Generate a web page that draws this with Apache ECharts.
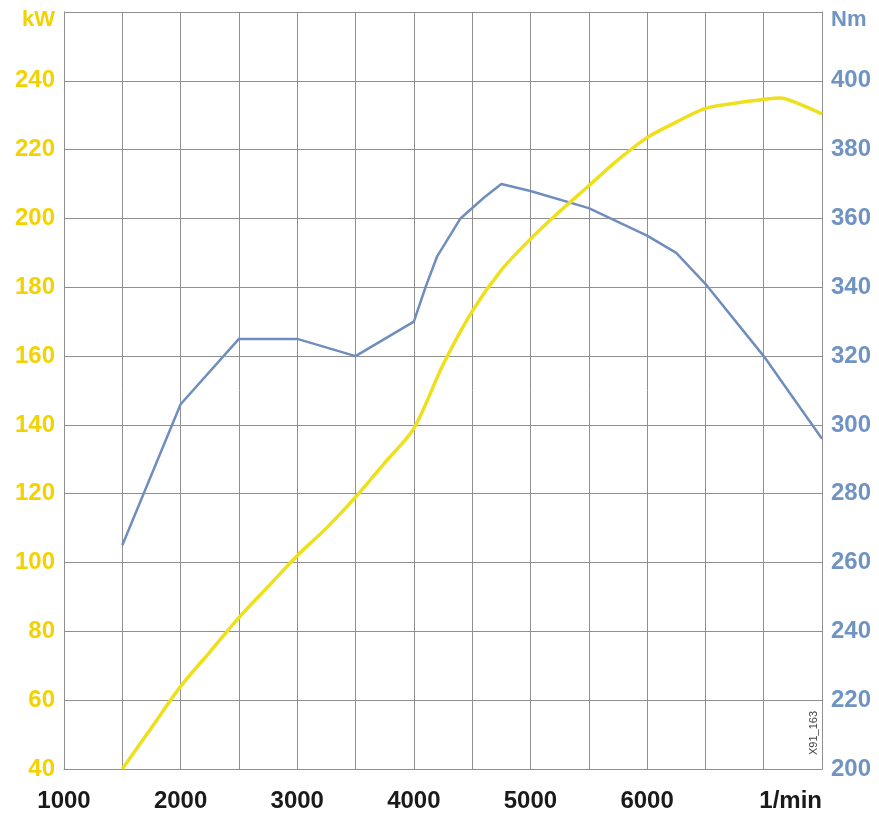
<!DOCTYPE html>
<html>
<head>
<meta charset="utf-8">
<script src="https://cdn.jsdelivr.net/npm/echarts@6/dist/echarts.min.js"></script>
<style>
html,body{margin:0;padding:0;background:#fff;}
#chart{width:879px;height:822px;}
</style>
</head>
<body>
<div id="chart"></div>
<script>
// Power curve (kW) sampled over engine speed (1/min)
var powerRpm = [1500,1750,2000,2250,2500,2750,3000,3250,3500,3750,4000,4250,4500,4750,5000,5250,5500,5750,6000,6250,6500,6750,7000,7150,7250,7500];
var powerKw  = [40,52,64,74,84,93,102,110,119,129,139,157.5,173,185,194,202,209.5,217,223.5,228,232,233.5,234.6,235,234,230.4];
// Torque curve (Nm)
var torqueRpm = [1500,2000,2500,3000,3500,4000,4100,4200,4400,4600,4750,5000,5500,6000,6250,6500,7000,7500];
var torqueNm  = [265,306,325,325,320,330,340,349,360,366,370,368,363,355,350,341,320,296];
// Axis ticks
var xTicks = [1000,2000,3000,4000,5000,6000];
var xUnit = '1/min';
var kwName = 'kW';
var nmName = 'Nm';
var codeText = 'X91_163';

var yellow = '#eee01c';
var yellowText = '#f2d200';
var blue = '#6f8ebd';
var blueText = '#6f93c3';
var gridColor = '#8f8f8f';

function pairs(xs, ys){ return xs.map(function(x,i){ return [x, ys[i]]; }); }

var chart = echarts.init(document.getElementById('chart'), null, {renderer:'canvas'});
chart.setOption({
  animation: false,
  backgroundColor: '#fff',
  grid: {left: 64, right: 57, top: 12, bottom: 53, containLabel: false},
  xAxis: {
    type: 'value', min: 1000, max: 7500, interval: 500,
    axisLine: {show: true, lineStyle: {color: gridColor, width: 1}},
    axisTick: {show: false},
    splitLine: {show: true, lineStyle: {color: gridColor, width: 1}},
    axisLabel: {
      margin: 20, color: '#1a1a1a', fontSize: 24, fontWeight: 'bold', fontFamily: 'Liberation Sans',
      showMaxLabel: true, alignMaxLabel: 'right',
      formatter: function(v){
        if (v === 7500) return xUnit;
        return xTicks.indexOf(v) >= 0 ? String(v) : '';
      }
    }
  },
  yAxis: [{
    type: 'value', min: 40, max: 260, interval: 20, position: 'left',
    name: kwName, nameLocation: 'end', nameGap: -8,
    nameTextStyle: {color: yellowText, fontSize: 22, fontWeight: 'bold', fontFamily: 'Liberation Sans', align: 'right', verticalAlign: 'middle', padding: [0, 9, 0, 0]},
    axisLine: {show: true, lineStyle: {color: gridColor, width: 1}},
    axisTick: {show: false},
    splitLine: {show: true, lineStyle: {color: gridColor, width: 1}},
    axisLabel: {margin: 9, color: yellowText, fontSize: 24, fontWeight: 'bold', fontFamily: 'Liberation Sans',
      formatter: function(v){ return v === 260 ? '' : String(v); }}
  },{
    type: 'value', min: 200, max: 420, interval: 20, position: 'right',
    name: nmName, nameLocation: 'end', nameGap: -8,
    nameTextStyle: {color: blueText, fontSize: 22, fontWeight: 'bold', fontFamily: 'Liberation Sans', align: 'left', verticalAlign: 'middle', padding: [0, 0, 0, 9]},
    axisLine: {show: true, lineStyle: {color: gridColor, width: 1}},
    axisTick: {show: false},
    splitLine: {show: false},
    axisLabel: {margin: 9, color: blueText, fontSize: 24, fontWeight: 'bold', fontFamily: 'Liberation Sans',
      formatter: function(v){ return v === 420 ? '' : String(v); }}
  }],
  series: [{
    type: 'line', name: 'Nm', yAxisIndex: 1, data: pairs(torqueRpm, torqueNm),
    showSymbol: false, smooth: false,
    lineStyle: {color: blue, width: 2.5}
  },{
    type: 'line', name: 'kW', yAxisIndex: 0, data: pairs(powerRpm, powerKw),
    showSymbol: false, smooth: 0.3,
    lineStyle: {color: yellow, width: 3.5}
  }],
  graphic: [{
    type: 'text', x: 814, y: 733, rotation: Math.PI/2,
    style: {text: codeText, fill: '#444', fontSize: 11, fontFamily: 'Liberation Sans', align: 'center', verticalAlign: 'middle'}
  }]
});
</script>
</body>
</html>
